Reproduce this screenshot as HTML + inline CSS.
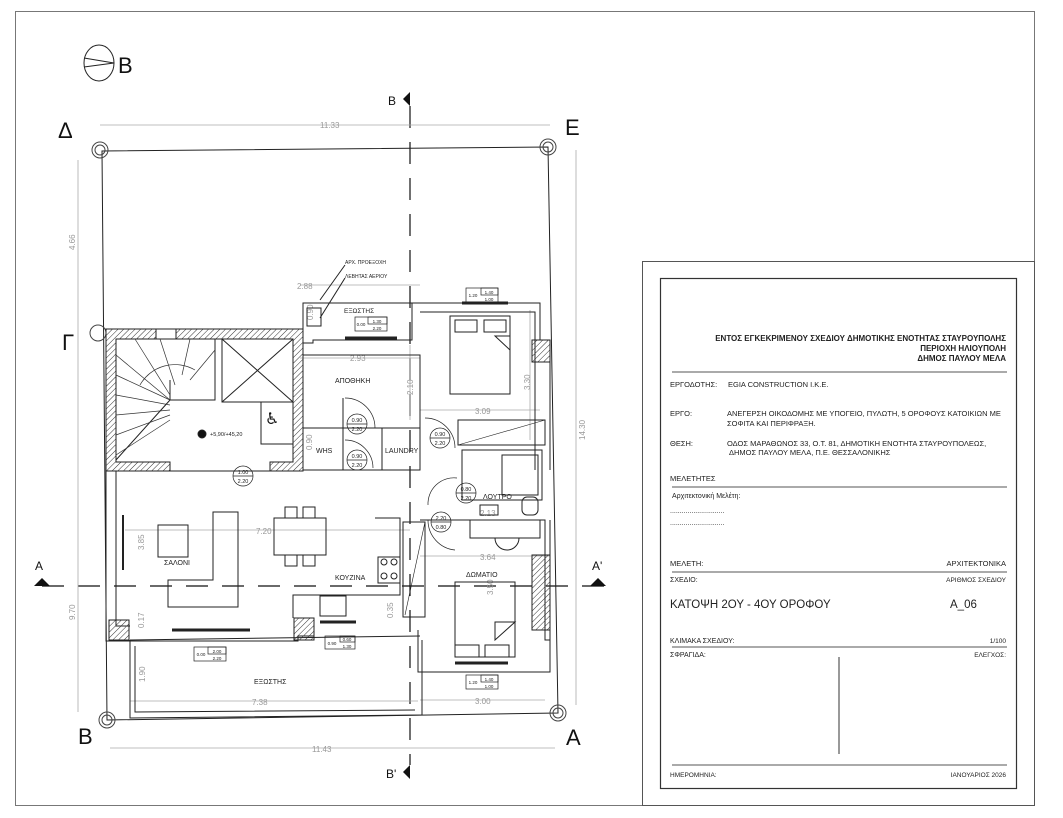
<!DOCTYPE html>
<html><head><meta charset="utf-8">
<style>
html,body{margin:0;padding:0;background:#fff;}
svg{display:block;}
text{font-family:"Liberation Sans","DejaVu Sans",sans-serif;}
</style></head><body>
<svg width="1063" height="818" viewBox="0 0 1063 818" xmlns="http://www.w3.org/2000/svg">
<defs>
<pattern id="h" width="4" height="4" patternUnits="userSpaceOnUse" patternTransform="rotate(45)">
<line x1="0" y1="0" x2="0" y2="4" stroke="#333" stroke-width="1"/></pattern>
</defs>
<rect x="0" y="0" width="1063" height="818" fill="#fff"/>
<rect x="15.5" y="11.5" width="1019" height="794" fill="none" stroke="#777" stroke-width="1"/>
<rect x="642.5" y="261.5" width="392" height="544" fill="#fff" stroke="#555" stroke-width="1"/>
<rect x="660.5" y="278.5" width="356" height="510" fill="none" stroke="#333" stroke-width="1.2"/>
<g font-size="7.5" fill="#222">
<text x="1006" y="341" text-anchor="end" font-weight="bold" font-size="8">ΕΝΤΟΣ ΕΓΚΕΚΡΙΜΕΝΟΥ ΣΧΕΔΙΟΥ ΔΗΜΟΤΙΚΗΣ ΕΝΟΤΗΤΑΣ ΣΤΑΥΡΟΥΠΟΛΗΣ</text>
<text x="1006" y="351" text-anchor="end" font-weight="bold" font-size="8">ΠΕΡΙΟΧΗ ΗΛΙΟΥΠΟΛΗ</text>
<text x="1006" y="361" text-anchor="end" font-weight="bold" font-size="8">ΔΗΜΟΣ ΠΑΥΛΟΥ ΜΕΛΑ</text>
<line x1="672" y1="372" x2="1007" y2="372" stroke="#555"/>
<text x="670" y="387">ΕΡΓΟΔΟΤΗΣ:</text><text x="728" y="387">EGIA CONSTRUCTION I.K.E.</text>
<text x="670" y="416">ΕΡΓΟ:</text><text x="727" y="416">ΑΝΕΓΕΡΣΗ ΟΙΚΟΔΟΜΗΣ ΜΕ ΥΠΟΓΕΙΟ, ΠΥΛΩΤΗ, 5 ΟΡΟΦΟΥΣ ΚΑΤΟΙΚΙΩΝ ΜΕ</text>
<text x="727" y="426">ΣΟΦΙΤΑ ΚΑΙ ΠΕΡΙΦΡΑΞΗ.</text>
<text x="670" y="446">ΘΕΣΗ:</text><text x="727" y="446">ΟΔΟΣ ΜΑΡΑΘΩΝΟΣ 33, Ο.Τ. 81,  ΔΗΜΟΤΙΚΗ ΕΝΟΤΗΤΑ ΣΤΑΥΡΟΥΠΟΛΕΩΣ,</text>
<text x="729" y="455">ΔΗΜΟΣ ΠΑΥΛΟΥ ΜΕΛΑ, Π.Ε. ΘΕΣΣΑΛΟΝΙΚΗΣ</text>
<text x="670" y="481">ΜΕΛΕΤΗΤΕΣ</text>
<line x1="672" y1="487" x2="1007" y2="487" stroke="#555"/>
<text x="672" y="498" font-size="7">Αρχιτεκτονική Μελέτη:</text>
<text x="670" y="513" font-size="7">............................</text>
<text x="670" y="525" font-size="7">............................</text>
<text x="670" y="566">ΜΕΛΕΤΗ:</text><text x="1006" y="566" text-anchor="end">ΑΡΧΙΤΕΚΤΟΝΙΚΑ</text>
<line x1="672" y1="572" x2="1007" y2="572" stroke="#555"/>
<text x="670" y="582" font-size="7">ΣΧΕΔΙΟ:</text><text x="1006" y="582" text-anchor="end" font-size="6.5">ΑΡΙΘΜΟΣ ΣΧΕΔΙΟΥ</text>
<text x="670" y="608" font-size="11.5">ΚΑΤΟΨΗ 2ΟΥ - 4ΟΥ ΟΡΟΦΟΥ</text>
<text x="950" y="608" font-size="11.5">Α_06</text>
<text x="670" y="643" font-size="7">ΚΛΙΜΑΚΑ ΣΧΕΔΙΟΥ:</text><text x="1006" y="643" text-anchor="end" font-size="6.5">1/100</text>
<line x1="672" y1="647" x2="1007" y2="647" stroke="#555"/>
<text x="670" y="657" font-size="7">ΣΦΡΑΓΙΔΑ:</text><text x="1006" y="657" text-anchor="end" font-size="6.5">ΕΛΕΓΧΟΣ:</text>
<line x1="839" y1="657" x2="839" y2="754" stroke="#333"/>
<line x1="672" y1="765" x2="1007" y2="765" stroke="#555"/>
<text x="670" y="777" font-size="6.5">ΗΜΕΡΟΜΗΝΙΑ:</text><text x="1006" y="777" text-anchor="end" font-size="6.5">ΙΑΝΟΥΑΡΙΟΣ 2026</text>
</g>

<ellipse cx="99" cy="63" rx="15" ry="18" fill="none" stroke="#222"/>
<path d="M84 58 L114 63 L84 67" fill="none" stroke="#222"/>
<text x="118" y="73" font-size="22" fill="#111">Β</text>

<g font-size="22" fill="#111">
<text x="58" y="138">Δ</text><text x="565" y="135">Ε</text>
<text x="62" y="350">Γ</text>
<text x="78" y="744">Β</text><text x="566" y="745">Α</text>
</g>
<g font-size="12" fill="#111">
<text x="388" y="105">Β</text><path d="M410 92 L403 99 L410 106Z" fill="#111"/>
<text x="386" y="778">Β'</text><path d="M410 765 L403 772 L410 779Z" fill="#111"/>
<text x="35" y="570">Α</text><path d="M34 586 L42 578 L50 586Z" fill="#111"/>
<text x="592" y="570">Α'</text><path d="M590 586 L598 578 L606 586Z" fill="#111"/>
</g>
<g stroke="#111" stroke-width="1.2" fill="none" stroke-dasharray="22,14">
<line x1="410" y1="106" x2="410" y2="765"/>
<line x1="42" y1="586" x2="610" y2="586"/>
</g>

<path d="M102 151 L548 147 L558 713 L107 720 Z" fill="none" stroke="#222" stroke-width="1"/>
<g fill="none" stroke="#444">
<circle cx="100" cy="150" r="8"/><circle cx="100" cy="150" r="5"/>
<circle cx="548" cy="147" r="8"/><circle cx="548" cy="147" r="5"/>
<circle cx="558" cy="713" r="8"/><circle cx="558" cy="713" r="5"/>
<circle cx="107" cy="720" r="8"/><circle cx="107" cy="720" r="5"/>
<circle cx="98" cy="333" r="8"/>
</g>

<g stroke="#aaa" stroke-width="0.8" fill="none">
<line x1="100" y1="125" x2="550" y2="125"/>
<line x1="78" y1="160" x2="78" y2="712"/>
<line x1="576" y1="150" x2="576" y2="705"/>
<line x1="110" y1="748" x2="555" y2="748"/>
<line x1="300" y1="285" x2="420" y2="285"/>
<line x1="300" y1="358" x2="420" y2="358"/>
<line x1="420" y1="410" x2="540" y2="410"/>
<line x1="125" y1="530" x2="410" y2="530"/>
<line x1="420" y1="556" x2="550" y2="556"/>
<line x1="130" y1="701" x2="418" y2="701"/>
<line x1="420" y1="700" x2="545" y2="700"/>
<line x1="410" y1="345" x2="410" y2="420"/>
<line x1="530" y1="310" x2="530" y2="440"/>
</g>
<g font-size="8" fill="#999">
<text x="320" y="128">11.33</text>
<text x="312" y="752">11.43</text>
<text x="297" y="289">2.88</text>
<text x="350" y="361">2.93</text>
<text x="475" y="414">3.09</text>
<text x="256" y="534">7.20</text>
<text x="480" y="560">3.64</text>
<text x="252" y="705">7.38</text>
<text x="475" y="704">3.00</text>
<text x="166" y="352">2.50</text><text x="249" y="356">1.80</text>
<text x="182" y="413">1.20</text><text x="262" y="446">0.80</text>
<text x="480" y="516">2.13</text>
<text transform="translate(75,250) rotate(-90)">4.66</text>
<text transform="translate(75,620) rotate(-90)">9.70</text>
<text transform="translate(585,440) rotate(-90)">14.30</text>
<text transform="translate(144,550) rotate(-90)">3.85</text>
<text transform="translate(144,628) rotate(-90)">0.17</text>
<text transform="translate(145,682) rotate(-90)">1.90</text>
<text transform="translate(413,395) rotate(-90)">2.10</text>
<text transform="translate(530,390) rotate(-90)">3.30</text>
<text transform="translate(286,380) rotate(-90)">1.60</text>
<text transform="translate(493,595) rotate(-90)">3.50</text>
<text transform="translate(393,618) rotate(-90)">0.35</text>
<text transform="translate(313,320) rotate(-90)">0.90</text>
<text transform="translate(312,450) rotate(-90)">0.90</text>
</g>

<g fill="none" stroke="#222" stroke-width="1">
<path d="M106 329 L303 329 L303 471 L106 471 Z" fill="url(#h)"/>
<path d="M116 339 L293 339 L293 462 L270 462 L270 471 L170 471 L170 462 L116 462 Z" fill="#fff"/>
<rect x="156" y="329" width="20" height="10" fill="#fff"/>
<rect x="222" y="339" width="71" height="63"/>
<line x1="222" y1="339" x2="293" y2="402"/><line x1="293" y1="339" x2="222" y2="402"/>
<rect x="261" y="402" width="32" height="42"/>
<path d="M116 460 L170 400 L170 380" />
<path d="M215 339 L215 400 L170 400"/>
<g stroke="#333" stroke-width="0.7">
<line x1="116" y1="355" x2="170" y2="400"/><line x1="116" y1="375" x2="170" y2="400"/>
<line x1="116" y1="395" x2="170" y2="405"/><line x1="116" y1="415" x2="170" y2="410"/>
<line x1="116" y1="435" x2="170" y2="415"/><line x1="116" y1="455" x2="170" y2="420"/>
<line x1="135" y1="339" x2="170" y2="395"/><line x1="160" y1="339" x2="175" y2="385"/>
<line x1="190" y1="339" x2="182" y2="375"/><line x1="215" y1="350" x2="190" y2="380"/>
<path d="M140 385 A40 40 0 0 1 195 370" fill="none"/>
</g>
<text x="265" y="424" font-size="16" fill="#111" stroke="none">♿</text>
<text x="210" y="436" font-size="5.5" fill="#222" stroke="none">+5,90/+45,20</text>
<circle cx="202" cy="434" r="4" fill="#111"/>
<path d="M303 303 L412 303 L412 340 L313 340 L313 343 L303 343 Z"/>
<rect x="307" y="308" width="14" height="18"/>
<line x1="345" y1="338" x2="397" y2="338" stroke-width="3"/>
<line x1="320" y1="300" x2="345" y2="265"/><line x1="320" y1="318" x2="345" y2="278"/>
<path d="M303 355 L420 355 L420 470 L303 470"/>
<line x1="303" y1="428" x2="420" y2="428"/>
<line x1="343" y1="428" x2="343" y2="470"/><line x1="382" y1="428" x2="382" y2="470"/>
<line x1="343" y1="398" x2="343" y2="428"/>
<path d="M345 398 A30 30 0 0 1 375 428" stroke-width="0.7"/>
<path d="M345 440 A28 28 0 0 1 373 468" stroke-width="0.7"/>
<path d="M412 303 L540 303 L540 340 L550 340 L550 470"/>
<path d="M420 312 L535 312 L535 470"/>
<line x1="462" y1="303" x2="508" y2="303" stroke-width="3"/>
<rect x="450" y="316" width="60" height="78"/>
<rect x="455" y="320" width="22" height="12"/><rect x="484" y="320" width="22" height="12"/>
<path d="M495 336 L510 336 L510 350 Z"/>
<rect x="532" y="340" width="18" height="22" fill="url(#h)"/>
<path d="M458 420 L545 420 L545 445 L458 445 Z"/>
<line x1="458" y1="445" x2="545" y2="420" stroke-width="0.6"/>
<rect x="462" y="450" width="80" height="50"/>
<rect x="502" y="455" width="36" height="40"/>
<path d="M425 418 A30 30 0 0 1 455 448" stroke-width="0.7"/>
<path d="M457 478 A26 26 0 0 0 428 505" stroke-width="0.7"/>
<rect x="480" y="505" width="18" height="10"/>
<rect x="522" y="497" width="16" height="18" rx="5"/>
<rect x="470" y="520" width="70" height="18"/>
<path d="M495 538 A12 12 0 0 0 519 538"/>
<path d="M106 471 L106 641 L298 641 L298 636 L314 636"/>
<path d="M116 471 L116 626 L130 626"/>
<rect x="109" y="620" width="20" height="20" fill="url(#h)"/>
<rect x="294" y="618" width="20" height="22" fill="url(#h)"/>
<line x1="172" y1="630" x2="250" y2="630" stroke-width="3"/>
<line x1="123" y1="515" x2="123" y2="570" stroke-width="2"/>
<rect x="158" y="525" width="30" height="32"/>
<path d="M213 512 L238 512 L238 607 L168 607 L168 580 L213 580 Z"/>
<rect x="274" y="518" width="52" height="37"/>
<rect x="285" y="507" width="12" height="11"/><rect x="303" y="507" width="12" height="11"/>
<rect x="285" y="555" width="12" height="11"/><rect x="303" y="555" width="12" height="11"/>
<path d="M375 518 L400 518 L400 595 L293 595 L293 618"/>
<rect x="378" y="557" width="22" height="26"/>
<circle cx="384" cy="562" r="3"/><circle cx="394" cy="562" r="3"/>
<circle cx="384" cy="576" r="3"/><circle cx="394" cy="576" r="3"/>
<rect x="320" y="596" width="26" height="20"/>
<line x1="320" y1="622" x2="356" y2="622" stroke-width="3"/>
<path d="M403 522 L425 522 L425 617 L403 617 Z"/>
<line x1="405" y1="615" x2="425" y2="522" stroke-width="0.6"/>
<path d="M428 520 A30 30 0 0 0 455 550" stroke-width="0.7"/>
<path d="M420 520 L545 520 L545 640 L550 640"/>
<path d="M418 630 L418 672 L550 672 L550 520"/>
<rect x="532" y="555" width="18" height="75" fill="url(#h)"/>
<rect x="455" y="582" width="60" height="75"/>
<rect x="455" y="645" width="24" height="12"/><rect x="485" y="645" width="24" height="12"/>
<path d="M495 622 L515 622 L495 640 Z"/>
<line x1="455" y1="663" x2="508" y2="663" stroke-width="3"/>
<path d="M130 640 L420 636"/>
<path d="M130 640 L130 718 L422 715 L422 640"/>
<path d="M135 646 L135 712 L415 710"/>
</g>

<g font-size="7" fill="#222">
<text x="344" y="313" font-size="6.5">ΕΞΩΣΤΗΣ</text>
<text x="335" y="383">ΑΠΟΘΗΚΗ</text>
<text x="316" y="453">WHS</text>
<text x="385" y="453">LAUNDRY</text>
<text x="164" y="565">ΣΑΛΟΝΙ</text>
<text x="335" y="580">ΚΟΥΖΙΝΑ</text>
<text x="466" y="577">ΔΩΜΑΤΙΟ</text>
<text x="483" y="499">ΛΟΥΤΡΟ</text>
<text x="254" y="684">ΕΞΩΣΤΗΣ</text>
<text x="345" y="264" font-size="5">ΑΡΧ. ΠΡΟΕΞΟΧΗ</text>
<text x="345" y="278" font-size="5">ΛΕΒΗΤΑΣ ΑΕΡΙΟΥ</text>
</g>

<g font-size="6" fill="#222" stroke="#222" stroke-width="0.7">
<g fill="none"><circle cx="357" cy="424" r="10"/><circle cx="357" cy="460" r="10"/><circle cx="440" cy="438" r="10"/>
<circle cx="243" cy="476" r="10"/><circle cx="466" cy="493" r="10"/><circle cx="441" cy="522" r="10"/></g>
<line x1="347" y1="424" x2="367" y2="424"/><line x1="347" y1="460" x2="367" y2="460"/><line x1="430" y1="438" x2="450" y2="438"/>
<line x1="233" y1="476" x2="253" y2="476"/><line x1="456" y1="493" x2="476" y2="493"/><line x1="431" y1="522" x2="451" y2="522"/>
</g>
<g font-size="5.5" fill="#222" text-anchor="middle">
<text x="357" y="422">0.90</text><text x="357" y="431">2.20</text>
<text x="357" y="458">0.90</text><text x="357" y="467">2.20</text>
<text x="440" y="436">0.90</text><text x="440" y="445">2.20</text>
<text x="243" y="474">1.00</text><text x="243" y="483">2.20</text>
<text x="466" y="491">0.80</text><text x="466" y="500">2.20</text>
<text x="441" y="520">2.20</text><text x="441" y="529">0.80</text>
</g>
<g fill="none" stroke="#222" stroke-width="0.7">
<rect x="355" y="317" width="32" height="14"/><rect x="368" y="317" width="19" height="7"/>
<rect x="466" y="288" width="32" height="14"/><rect x="481" y="288" width="17" height="7"/>
<rect x="194" y="647" width="32" height="14"/><rect x="208" y="647" width="18" height="7"/>
<rect x="325" y="636" width="30" height="13"/><rect x="340" y="636" width="15" height="6"/>
<rect x="466" y="675" width="32" height="14"/><rect x="481" y="675" width="17" height="7"/>
</g>
<g font-size="4.5" fill="#222" text-anchor="middle">
<text x="361" y="326">0.00</text><text x="377" y="323">1.30</text><text x="377" y="330">2.20</text>
<text x="473" y="297">1.20</text><text x="489" y="294">1.40</text><text x="489" y="301">1.00</text>
<text x="201" y="656">0.00</text><text x="217" y="653">2.00</text><text x="217" y="660">2.20</text>
<text x="332" y="645">0.90</text><text x="347" y="641">0.60</text><text x="347" y="648">1.30</text>
<text x="473" y="684">1.20</text><text x="489" y="681">1.40</text><text x="489" y="688">1.00</text>
</g>
</svg>
</body></html>
